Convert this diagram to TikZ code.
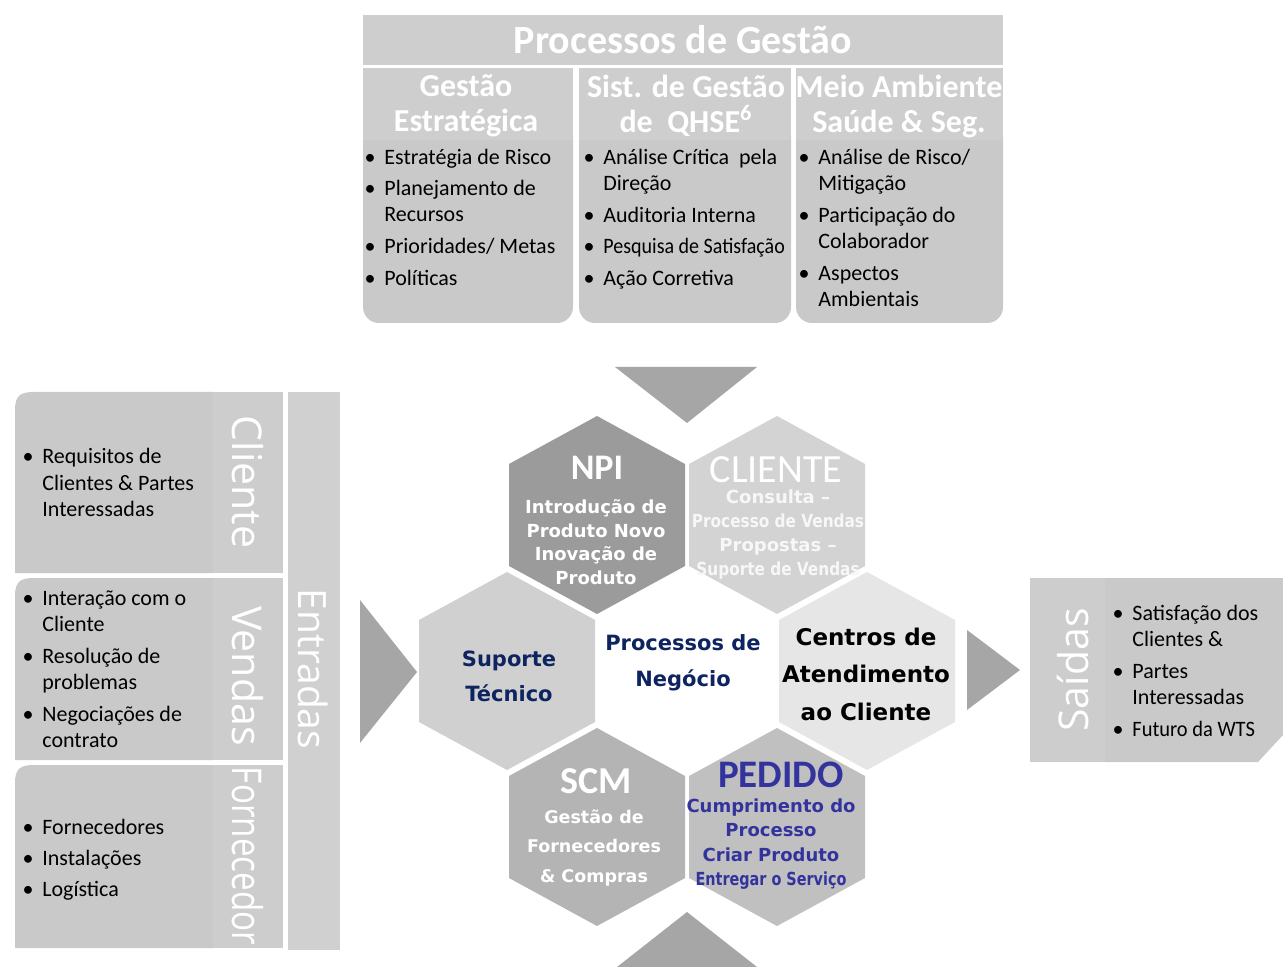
\documentclass[tikz,border=0pt]{standalone}
\usepackage{fontspec}
\setmainfont{Carlito}
\newfontfamily\osans{Open Sans}
\newfontfamily\dvs{DejaVu Sans}
\usepackage{graphicx}
\definecolor{panel}{HTML}{C9C9C9}
\definecolor{panelhd}{HTML}{CECECE}
\definecolor{stripc}{HTML}{CDCDCD}
\definecolor{entr}{HTML}{D0D0D0}
\definecolor{arrowgray}{HTML}{A6A6A6}
\definecolor{navy}{HTML}{0D2460}
\definecolor{pedblue}{HTML}{33339E}
\definecolor{hexnpi}{HTML}{9B9B9B}
\definecolor{hexcli}{HTML}{D3D3D3}
\definecolor{hexsup}{HTML}{D0D0D0}
\definecolor{hexcen}{HTML}{E6E6E6}
\definecolor{hexscm}{HTML}{B4B4B4}
\definecolor{hexped}{HTML}{C0C0C0}
\tikzset{
  bt/.style={font=\fontsize{11}{13}\selectfont, inner sep=0pt, anchor=base west, text=black},
  bm/.style={font=\fontsize{11}{13}\selectfont, inner sep=0pt, anchor=base, text=black},
  hd/.style={font=\fontsize{16}{17.5}\selectfont\bfseries, text=white, align=center, inner sep=0pt},
  ttl/.style={font=\fontsize{20}{22}\selectfont\bfseries, text=white, inner sep=0pt},
  vlab/.style={font=\osans\fontsize{20.5}{22}\selectfont, text=white, inner sep=0pt},
  tri/.style={fill=arrowgray},
  hexbig/.style={font=\fontsize{18}{20}\selectfont\bfseries, inner sep=0pt, text depth=0pt},
  hexsmall/.style={font=\dvs\bfseries\fontsize{9}{11.75}\selectfont, align=center, inner sep=0pt},
}
\newcommand\bi[5]{\node[bm] (#1m) at (#2,#4+2) {\textbullet}; \node[bt] (#1) at (#3,#4+2) {#5};}
\newcommand\bc[4]{\node[bt] (#1) at (#2,#3+2) {#4};}
\newcommand\hexa[3]{\fill[#1] (#2,#3-99) -- (#2+88,#3-51) -- (#2+88,#3+51) -- (#2,#3+99) -- (#2-88,#3+51) -- (#2-88,#3-51) -- cycle;}
\begin{document}
\begin{tikzpicture}[x=0.5pt,y=-0.5pt]
\useasboundingbox (0,0) rectangle (1283,967);
\fill[white] (0,0) rectangle (1283,967);

% ---------- top panel ----------
\fill[panelhd] (363,15) rectangle (1003,65);
\node[ttl] (pg) at (683,40) {Processos de Gestão};
\foreach \a/\b in {363/573,579/791,796/1003}{
  \fill[panel, rounded corners=8pt] (\a,120) rectangle (\b,323);
  \fill[panelhd] (\a,68) rectangle (\b,140);
}
\node[hd] (h1) at (466,106) {Gestão\\Estratégica};
\node[hd] (h2) at (686,106) {Sist. de Gestão\\de~~QHSE\textsuperscript{6}};
\node[hd] (h3) at (899,106) {Meio Ambiente\\Saúde \& Seg.};

\bi{a1}{370}{384}{163}{Estratégia de Risco}
\bi{a2}{370}{384}{194}{Planejamento de}
\bc{a2b}{384}{220}{Recursos}
\bi{a3}{370}{384}{252}{Prioridades/ Metas}
\bi{a4}{370}{384}{284}{Políticas}

\bi{b1}{589}{603}{163}{Análise Crítica~~pela}
\bc{b1b}{603}{189}{Direção}
\bi{b2}{589}{603}{221}{Auditoria Interna}
\bi{b3}{589}{603}{252}{\scalebox{0.91}[1]{Pesquisa de Satisfação}}
\bi{b4}{589}{603}{284}{Ação Corretiva}

\bi{c1}{804}{818}{163}{Análise de Risco/}
\bc{c1b}{818}{189}{Mitigação}
\bi{c2}{804}{818}{221}{Participação do}
\bc{c2b}{818}{247}{Colaborador}
\bi{c3}{804}{818}{279}{Aspectos}
\bc{c3b}{818}{305}{Ambientais}

% ---------- left panel ----------
\foreach \t/\b in {392/573,578/760,765/948}{
  \fill[panel] (213,\b) -- (15,\b) -- (15,\t+18) .. controls (15,\t+4) and (20,\t) .. (34,\t) -- (213,\t) -- cycle;
  \fill[stripc] (213,\t) rectangle (283,\b);
}
\fill[entr] (288,392) rectangle (340,950);
\node[vlab, rotate=-90] (vcli) at (248,482) {Cliente};
\node[vlab, rotate=-90] (vven) at (248,676) {Vendas};
\node[vlab, rotate=-90] (vfor) at (248,856) {\scalebox{0.81}[1]{Fornecedor}};
\node[vlab, font=\osans\fontsize{19.5}{22}\selectfont, rotate=-90] (vent) at (313,669) {Entradas};

\bi{d1}{28}{42}{462}{Requisitos de}
\bc{d1b}{42}{488}{Clientes \& Partes}
\bc{d1c}{42}{514}{Interessadas}
\bi{e1}{28}{42}{603}{Interação com o}
\bc{e1b}{42}{629}{Cliente}
\bi{e2}{28}{42}{661}{Resolução de}
\bc{e2b}{42}{687}{problemas}
\bi{e3}{28}{42}{719}{Negociações de}
\bc{e3b}{42}{745}{contrato}
\bi{f1}{28}{42}{832}{Fornecedores}
\bi{f2}{28}{42}{863}{Instalações}
\bi{f3}{28}{42}{894}{Logística}

% ---------- arrows ----------
\fill[tri] (615,367) -- (757,367) -- (687,423) -- cycle;
\fill[tri] (687,912) -- (757,967) -- (617,967) -- cycle;
\fill[tri] (360,600) -- (417,672) -- (360,743) -- cycle;
\fill[tri] (967,630) -- (1020,670) -- (967,710) -- cycle;

% ---------- hexagons ----------
\hexa{hexnpi}{597}{515}
\hexa{hexcli}{777}{515}
\hexa{hexsup}{507}{671}
\hexa{white}{687}{671}
\hexa{hexcen}{867}{671}
\hexa{hexscm}{597}{827}
\hexa{hexped}{777}{827}

\node[hexbig, text=white] (npi) at (597,468) {NPI};
\node[hexsmall, text=white] (npit) at (596,542) {Introdução de\\Produto Novo\\Inovação de\\Produto};
\node[hexbig, font=\fontsize{20}{22}\selectfont, text=white] (cli) at (776,470) {CLIENTE};
\node[hexsmall, text=white!97!black, font=\dvs\bfseries\fontsize{9}{12}\selectfont] (clit) at (778,535) {Consulta –\\\scalebox{0.85}[1]{Processo de Vendas}\\Propostas –\\\scalebox{0.85}[1]{Suporte de Vendas}};
\node[hexsmall, text=navy, font=\dvs\bfseries\fontsize{10.5}{17.5}\selectfont] (sup) at (509,676) {Suporte\\Técnico};
\node[hexsmall, text=navy, font=\dvs\bfseries\fontsize{10.5}{18}\selectfont] (pn) at (683,663) {Processos de\\Negócio};
\node[hexsmall, text=black, font=\dvs\bfseries\fontsize{11.5}{18.75}\selectfont] (cen) at (866,674) {Centros de\\Atendimento\\ao Cliente};
\node[hexbig, font=\fontsize{19}{22}\selectfont\bfseries, text=white] (scm) at (596,781) {SCM};
\node[hexsmall, text=white, font=\dvs\bfseries\fontsize{8.75}{14.75}\selectfont] (scmt) at (594,848) {Gestão de\\Fornecedores\\\& Compras};
\node[hexbig, font=\fontsize{19.5}{22}\selectfont\bfseries, text=pedblue] (ped) at (781,775) {PEDIDO};
\node[hexsmall, text=pedblue, font=\dvs\bfseries\fontsize{9}{12.25}\selectfont] (pedt) at (771,844) {Cumprimento do\\Processo\\Criar Produto\\\scalebox{0.8}[1]{Entregar o Serviço}};

% ---------- right panel ----------
\fill[panel] (1105,578) -- (1283,578) -- (1283,735) -- (1258,762) -- (1105,762) -- cycle;
\fill[stripc] (1030,578) rectangle (1105,762);
\node[vlab, rotate=90] (vsai) at (1073,670) {Saídas};
\bi{g1}{1118}{1132}{618}{Satisfação dos}
\bc{g1b}{1132}{644}{Clientes \&}
\bi{g2}{1118}{1132}{676}{Partes}
\bc{g2b}{1132}{702}{Interessadas}
\bi{g3}{1118}{1132}{734}{\scalebox{0.93}[1]{Futuro da WTS}}
\end{tikzpicture}
\end{document}
